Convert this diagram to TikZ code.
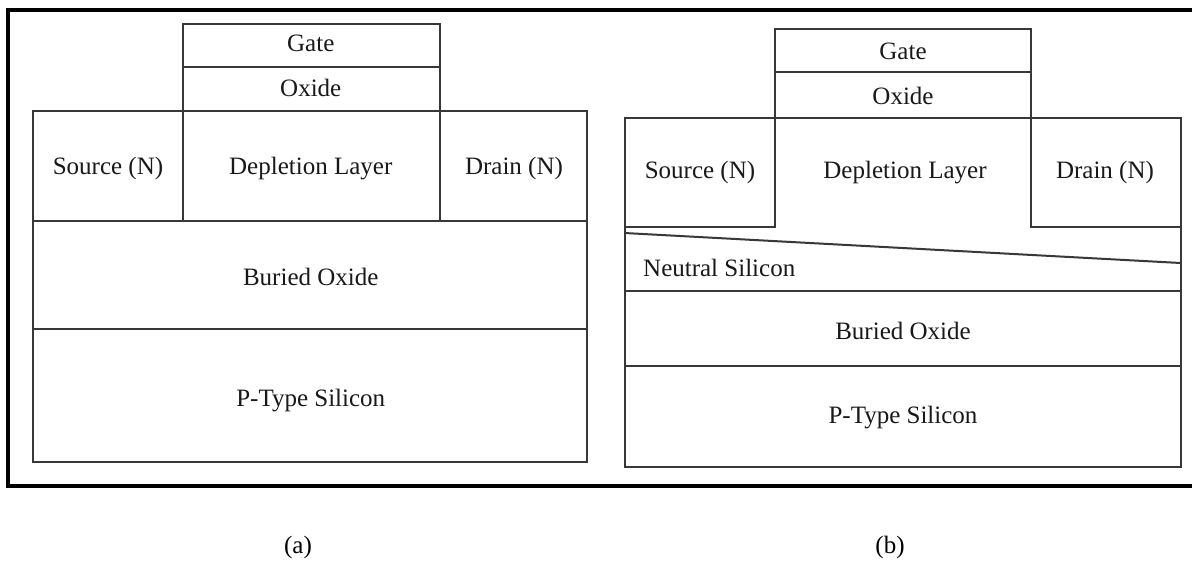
\documentclass[tikz,border=0pt]{standalone}
\usepackage{fontspec}
\setmainfont{Liberation Serif}
\begin{document}
\begin{tikzpicture}[x=1pt,y=-1pt,
  box/.style={draw=black!78,line width=2pt,line join=miter},
  frame/.style={draw=black,line width=4pt},
  lbl/.style={inner sep=0pt,anchor=base,font=\fontsize{25}{30}\selectfont,text=black!90},
  lblw/.style={lbl,anchor=base west},
  captext/.style={inner sep=0pt,anchor=base,font=\fontsize{25}{30}\selectfont}]
\useasboundingbox (0,0) rectangle (1192,560);
\fill[white] (0,0) rectangle (1192,560);
% outer frame
\draw[frame] (1192,10) -- (7.5,10) -- (7.5,486) -- (1192,486);

% ---------- (a) ----------
\draw[box] (182.5,24) rectangle (439.5,111);
\draw[box] (182.5,67) -- (439.5,67);
\draw[box] (33,111) rectangle (587,462);
\draw[box] (182.5,111) -- (182.5,220.5);
\draw[box] (439.5,111) -- (439.5,220.5);
\draw[box] (33,220.5) -- (587,220.5);
\draw[box] (33,329) -- (587,329);
\node[lbl] (aGate) at (310.75,51.5) {Gate};
\node[lbl] (aOx) at (310.75,96.5) {Oxide};
\node[lbl] (aSrc) at (108,174.5) {Source (N)};
\node[lbl] (aDep) at (310.75,174.5) {Depletion Layer};
\node[lbl] (aDrn) at (514,174.5) {Drain (N)};
\node[lbl] (aBox) at (310.75,285) {Buried Oxide};
\node[lbl] (aP) at (310.75,406) {P-Type Silicon};

% ---------- (b) ----------
\draw[box] (774.5,29) rectangle (1030.5,117.5);
\draw[box] (774.5,72) -- (1030.5,72);
\draw[box] (774.5,117.5) -- (624.5,117.5) -- (624.5,467) -- (1180.5,467) -- (1180.5,117.5) -- (1030.5,117.5);
\draw[box] (774.5,117.5) -- (774.5,226.5) -- (624.5,226.5);
\draw[box] (1030.5,117.5) -- (1030.5,226.5) -- (1180.5,226.5);
\draw[box] (624.5,233) -- (1180.5,263);
\draw[box] (624.5,291) -- (1180.5,291);
\draw[box] (624.5,366) -- (1180.5,366);
\node[lbl] (bGate) at (903,59.5) {Gate};
\node[lbl] (bOx) at (903,104.5) {Oxide};
\node[lbl] (bSrc) at (700,178) {Source (N)};
\node[lbl] (bDep) at (905,178) {Depletion Layer};
\node[lbl] (bDrn) at (1105,178) {Drain (N)};
\node[lblw] (bNeu) at (643,276) {Neutral Silicon};
\node[lbl] (bBox) at (903,339) {Buried Oxide};
\node[lbl] (bP) at (903,423) {P-Type Silicon};

% captions
\node[captext] (ca) at (298,553) {(a)};
\node[captext] (cb) at (890,553) {(b)};
\end{tikzpicture}
\end{document}
